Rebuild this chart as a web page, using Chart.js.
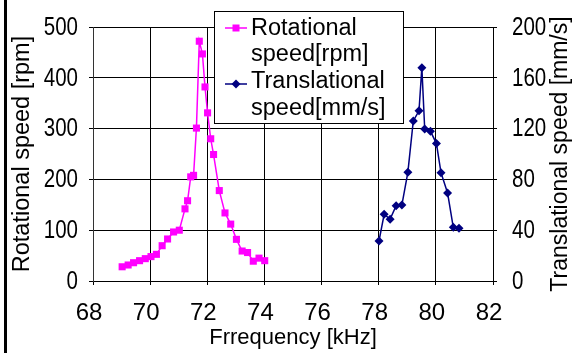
<!DOCTYPE html>
<html><head><meta charset="utf-8">
<script src="https://cdn.jsdelivr.net/npm/chart.js@4/dist/chart.umd.min.js"></script>
<style>
html,body{margin:0;padding:0;background:#fff;}
#wrap{position:relative;width:576px;height:353px;background:#fff;}
#edge{position:absolute;left:4px;top:0;width:3px;height:353px;background:#000;}
canvas{display:block;}
</style></head><body>
<div id="wrap"><canvas id="c" width="576" height="353"></canvas><div id="edge"></div></div>
<script>
// ---- data ----
const rotFreq = [69.02, 69.23, 69.42, 69.63, 69.83, 70.03, 70.22, 70.42, 70.61, 70.82, 71.02, 71.22, 71.31, 71.42, 71.52, 71.62, 71.72, 71.83, 71.92, 72.01, 72.12, 72.22, 72.42, 72.62, 72.82, 73.02, 73.22, 73.41, 73.61, 73.81, 74.01];
const rotVals = [28, 31.5, 36, 40, 44, 48, 52.5, 69.5, 82.7, 96.5, 100, 142, 158, 205, 208, 301, 472, 447, 382, 331, 280, 249, 178, 134, 112, 82, 59, 56, 39, 45, 40];
const transFreq = [78.01, 78.19, 78.40, 78.61, 78.81, 79.02, 79.21, 79.41, 79.51, 79.61, 79.81, 80.02, 80.18, 80.41, 80.61, 80.81];
const transVals = [31.5, 52.5, 48.7, 59.3, 59.8, 85.6, 126, 134, 168, 119.7, 118, 108.2, 85.3, 69.3, 42.3, 41.6];
const rotLabel = ['Rotational', 'speed[rpm]'];
const transLabel = ['Translational', 'speed[mm/s]'];
const xTitle = 'Frrequency [kHz]';
const yTitle = 'Rotational speed [rpm]';
const y2Title = 'Translational speed [mm/s]';
const xRange = [68, 82, 2];
const yRange = [0, 500, 100];
const y2Range = [0, 200, 40];

const FONT = "'Liberation Sans', Arial, sans-serif";

const overlay = {
  id: 'overlay',
  afterDraw(chart) {
    const ctx = chart.ctx;
    const ca = chart.chartArea;
    ctx.save();
    ctx.fillStyle = '#000';
    // y tick labels (slightly condensed, as in the reference)
    ctx.font = '25px ' + FONT;
    ctx.textBaseline = 'middle';
    [['y', 'right', 78], ['y2', 'left', 512]].forEach(([id, align, x]) => {
      const sc = chart.scales[id];
      ctx.textAlign = align;
      sc.ticks.forEach(t => {
        const py = sc.getPixelForValue(t.value) + 1;
        ctx.save();
        ctx.translate(x, py);
        ctx.scale(0.82, 1);
        ctx.fillText(t.label, 0, 0);
        ctx.restore();
      });
    });
    ctx.restore();

    // right axis title, reading bottom-to-top
    ctx.save();
    ctx.fillStyle = '#000';
    ctx.font = '23px ' + FONT;
    ctx.translate(561, (ca.top + ca.bottom) / 2);
    ctx.rotate(-Math.PI / 2);
    ctx.textAlign = 'center';
    ctx.textBaseline = 'middle';
    ctx.fillText(y2Title, 0, 0);
    ctx.restore();

    // legend box
    ctx.save();
    ctx.fillStyle = '#fff';
    ctx.strokeStyle = '#000';
    ctx.lineWidth = 1;
    ctx.fillRect(214.5, 11.5, 189, 112);
    ctx.strokeRect(214.5, 11.5, 189, 112);
    const ds = chart.data.datasets;
    const rows = [{my: 28, base: [35, 61]}, {my: 84, base: [88, 115]}];
    ds.forEach((d, i) => {
      const r = rows[i];
      ctx.strokeStyle = d.borderColor;
      ctx.lineWidth = 1.5;
      ctx.beginPath();
      ctx.moveTo(225, r.my);
      ctx.lineTo(247, r.my);
      ctx.stroke();
      ctx.fillStyle = d.backgroundColor;
      ctx.beginPath();
      if (d.pointStyle === 'rect') {
        ctx.rect(236 - 3.5, r.my - 3.5, 7, 7);
      } else {
        const s = 4.5;
        ctx.moveTo(236, r.my - s);
        ctx.lineTo(236 + s, r.my);
        ctx.lineTo(236, r.my + s);
        ctx.lineTo(236 - s, r.my);
        ctx.closePath();
      }
      ctx.fill();
      ctx.fillStyle = '#000';
      ctx.font = '23.5px ' + FONT;
      ctx.textAlign = 'left';
      ctx.textBaseline = 'alphabetic';
      d.label.forEach((t, k) => ctx.fillText(t, 251, r.base[k]));
    });
    ctx.restore();
  }
};

const tickFontX = {family: FONT, size: 24};

new Chart(document.getElementById('c').getContext('2d'), {
  type: 'scatter',
  data: {
    datasets: [
      {
        label: rotLabel,
        data: rotFreq.map((x, i) => ({x: x, y: rotVals[i]})),
        yAxisID: 'y',
        showLine: true,
        borderColor: '#FF00FF',
        backgroundColor: '#FF00FF',
        borderWidth: 1.5,
        pointStyle: 'rect',
        pointRadius: 5,
        pointHoverRadius: 5,
        pointBorderWidth: 0,
        tension: 0
      },
      {
        label: transLabel,
        data: transFreq.map((x, i) => ({x: x, y: transVals[i]})),
        yAxisID: 'y2',
        showLine: true,
        borderColor: '#000080',
        backgroundColor: '#000080',
        borderWidth: 1.5,
        pointStyle: 'rectRot',
        pointRadius: 4.5,
        pointHoverRadius: 4.5,
        pointBorderWidth: 0,
        tension: 0
      }
    ]
  },
  options: {
    responsive: false,
    animation: false,
    layout: {padding: {top: 27, left: 0, right: 0, bottom: 0}},
    plugins: {legend: {display: false}, tooltip: {enabled: false}},
    scales: {
      x: {
        type: 'linear', min: xRange[0], max: xRange[1],
        ticks: {stepSize: xRange[2], font: tickFontX, color: '#000', padding: 14, labelOffset: -4},
        grid: {color: '#000', lineWidth: 1, tickLength: 4},
        border: {color: '#000'},
        title: {display: true, text: xTitle, color: '#000', font: {family: FONT, size: 22}, padding: {top: 0, bottom: 2}},
        afterFit(s) { s.height = 72; }
      },
      y: {
        type: 'linear', position: 'left', min: yRange[0], max: yRange[1],
        ticks: {stepSize: yRange[2], display: false},
        grid: {color: '#000', lineWidth: 1, tickLength: 4},
        border: {color: '#333'},
        title: {display: true, text: yTitle, color: '#000', font: {family: FONT, size: 23.5}, padding: {top: 8, bottom: 0}},
        afterFit(s) { s.width = 93; }
      },
      y2: {
        type: 'linear', position: 'right', min: y2Range[0], max: y2Range[1],
        ticks: {stepSize: y2Range[2], display: false},
        grid: {drawOnChartArea: false, color: '#000', tickLength: 4},
        border: {color: '#000'},
        afterFit(s) { s.width = 83; }
      }
    }
  },
  plugins: [overlay]
});
</script>
</body></html>
